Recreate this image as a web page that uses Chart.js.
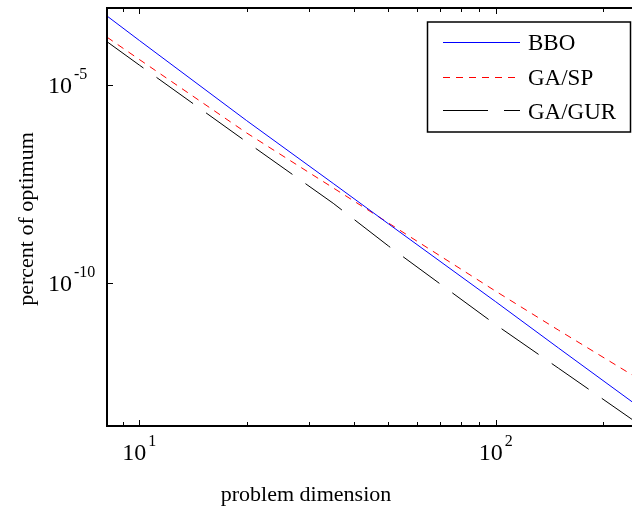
<!DOCTYPE html>
<html>
<head>
<meta charset="utf-8">
<script src="https://cdn.jsdelivr.net/npm/chart.js@4/dist/chart.umd.min.js"></script>
<style>
  body { margin: 0; background: #fff; overflow: hidden; }
  #wrap { width: 632px; height: 510px; }
</style>
</head>
<body>
<div id="wrap"><canvas id="myChart" width="632" height="510"></canvas></div>
<script>
// problem dimension (x) and percent of optimum (y)
const dims = [8.114, 10, 20, 35, 50, 100, 150, 241.3];
const bbo = [5.56e-4, 1.34e-4, 1.26e-6, 3.24e-8, 3.09e-9, 3.31e-11, 2.24e-12, 9.77e-14];
const gaSP = [1.62e-4, 4.42e-5, 6.14e-7, 2.5e-8, 3.24e-9, 6.1e-11, 6.34e-12, 4.68e-13];
const gaGUR = [1.245e-4, 3.19e-5, 3.63e-7, 1.02e-8, 8.5e-10, 8.7e-12, 6.9e-13, 3.5e-14];

const xMajor = [10, 100];
const xMinor = [9, 20, 30, 40, 50, 60, 70, 80, 90, 200];
const yMajor = [1e-5, 1e-10];

const FONT = "'Liberation Serif', 'Times New Roman', serif";

function pts(ys) {
  return dims.map((d, i) => ({ x: d, y: ys[i] }));
}

// draws "10" with a raised exponent; anchor is where the "10" ends
function drawPow(ctx, exp, xEnd, base) {
  ctx.font = "24px " + FONT;
  ctx.textAlign = "right";
  ctx.textBaseline = "alphabetic";
  ctx.fillText("10", xEnd, base);
  ctx.font = "16px " + FONT;
  ctx.textAlign = "left";
  ctx.fillText(exp, xEnd + 2, base - 14);
}

const matlabLook = {
  id: "matlabLook",
  afterDraw(chart) {
    const { ctx, chartArea: a, scales } = chart;
    const sx = scales.x, sy = scales.y;
    ctx.save();
    ctx.strokeStyle = "#000";
    ctx.fillStyle = "#000";

    // axes box (right side is cut off in the picture)
    ctx.lineWidth = 2;
    ctx.beginPath();
    ctx.moveTo(a.right, a.top);
    ctx.lineTo(a.left, a.top);
    ctx.lineTo(a.left, a.bottom);
    ctx.lineTo(a.right, a.bottom);
    ctx.stroke();

    // inward ticks
    ctx.lineWidth = 1;
    ctx.beginPath();
    xMajor.forEach((v) => {
      const px = Math.round(sx.getPixelForValue(v)) + 0.5;
      ctx.moveTo(px, a.bottom); ctx.lineTo(px, a.bottom - 6);
      ctx.moveTo(px, a.top); ctx.lineTo(px, a.top + 6);
    });
    xMinor.forEach((v) => {
      const px = Math.round(sx.getPixelForValue(v)) + 0.5;
      ctx.moveTo(px, a.bottom); ctx.lineTo(px, a.bottom - 4);
      ctx.moveTo(px, a.top); ctx.lineTo(px, a.top + 4);
    });
    yMajor.forEach((v) => {
      const py = Math.round(sy.getPixelForValue(v)) + 0.5;
      ctx.moveTo(a.left, py); ctx.lineTo(a.left + 6, py);
    });
    ctx.stroke();

    // tick labels
    xMajor.forEach((v) => {
      const px = sx.getPixelForValue(v);
      const exp = String(Math.round(Math.log10(v)));
      ctx.font = "24px " + FONT;
      const wb = ctx.measureText("10").width;
      ctx.font = "16px " + FONT;
      const we = ctx.measureText(exp).width;
      drawPow(ctx, exp, px - (wb + 2 + we) / 2 + wb, 460);
    });
    yMajor.forEach((v) => {
      const py = sy.getPixelForValue(v);
      drawPow(ctx, String(Math.round(Math.log10(v))), 72, py + 8);
    });

    // axis titles
    ctx.font = "22px " + FONT;
    ctx.textAlign = "center";
    ctx.textBaseline = "alphabetic";
    ctx.fillText("problem dimension", 306, 501);
    ctx.save();
    ctx.translate(33, 219);
    ctx.rotate(-Math.PI / 2);
    ctx.fillText("percent of optimum", 0, 0);
    ctx.restore();

    // legend box
    ctx.fillStyle = "#fff";
    ctx.fillRect(427, 22, 204, 110);
    ctx.lineWidth = 1.5;
    ctx.strokeStyle = "#000";
    ctx.strokeRect(427.5, 22, 203, 110);
    const lineY = [42, 77, 110];
    const textY = [50, 85, 119];
    chart.data.datasets.forEach((ds, i) => {
      ctx.strokeStyle = ds.borderColor;
      ctx.lineWidth = ds.borderWidth;
      ctx.setLineDash(ds.borderDash || []);
      ctx.beginPath();
      ctx.moveTo(443, lineY[i] + 0.5);
      ctx.lineTo(520, lineY[i] + 0.5);
      ctx.stroke();
      ctx.setLineDash([]);
      ctx.fillStyle = "#000";
      ctx.font = "23px " + FONT;
      ctx.textAlign = "left";
      ctx.fillText(ds.label, 528, textY[i]);
    });
    ctx.restore();
  },
};

new Chart(document.getElementById("myChart"), {
  type: "line",
  data: {
    datasets: [
      { label: "BBO", data: pts(bbo), borderColor: "#0000ff", borderWidth: 1 },
      { label: "GA/SP", data: pts(gaSP), borderColor: "#ff0000", borderWidth: 1, borderDash: [7, 6] },
      { label: "GA/GUR", data: pts(gaGUR), borderColor: "#000000", borderWidth: 1, borderDash: [45, 16] },
    ],
  },
  options: {
    responsive: false,
    animation: false,
    layout: { padding: { top: 8, left: 0, right: 0, bottom: 0 } },
    elements: { point: { radius: 0 }, line: { tension: 0 } },
    plugins: { legend: { display: false }, tooltip: { enabled: false } },
    scales: {
      x: {
        type: "logarithmic",
        min: 8.114,
        max: 241.3,
        bounds: "data",
        grid: { display: false },
        border: { display: false },
        ticks: { display: false },
        afterFit: (s) => { s.height = 84; },
      },
      y: {
        type: "logarithmic",
        min: 2.38e-14,
        max: 8.86e-4,
        bounds: "data",
        grid: { display: false },
        border: { display: false },
        ticks: { display: false },
        afterFit: (s) => { s.width = 107; },
      },
    },
  },
  plugins: [matlabLook],
});
</script>
</body>
</html>
